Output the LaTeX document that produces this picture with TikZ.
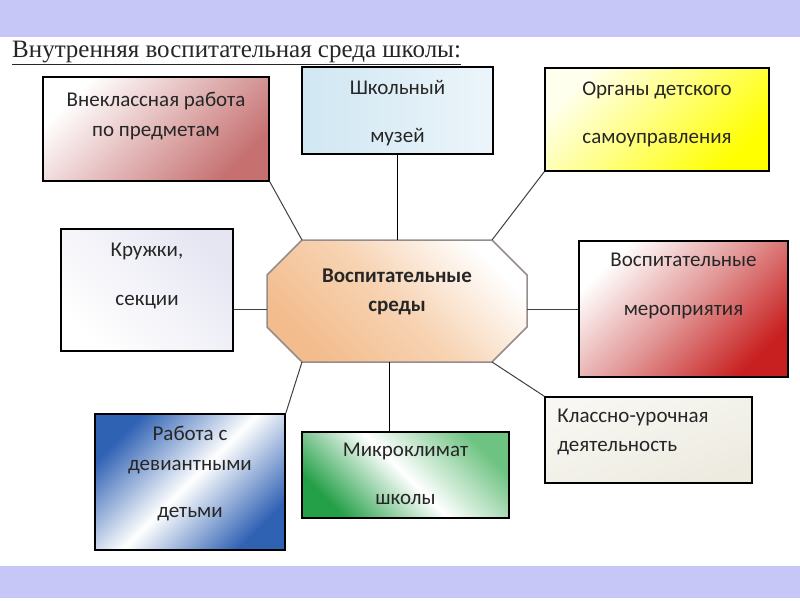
\documentclass[tikz,border=0pt]{standalone}
\usepackage{fontspec}
\setmainfont{Carlito}
\newfontfamily\titlefont{Liberation Serif}
\usepackage{tikz}

\definecolor{bandblue}{RGB}{199,199,247}
\definecolor{pinkred}{RGB}{198,112,112}
\definecolor{museumblue}{RGB}{208,231,242}
\definecolor{museumlight}{RGB}{236,245,250}
\definecolor{brightyellow}{RGB}{255,255,0}
\definecolor{paleyellow}{RGB}{255,255,238}
\definecolor{lilac}{RGB}{230,230,243}
\definecolor{peach}{RGB}{243,188,140}
\definecolor{peachlight}{RGB}{247,212,180}
\definecolor{octborder}{RGB}{150,140,140}
\definecolor{deepred}{RGB}{200,32,32}
\definecolor{midred}{RGB}{226,150,150}
\definecolor{beige}{RGB}{237,235,224}
\definecolor{leafgreen}{RGB}{36,160,72}
\definecolor{lightgreen}{RGB}{110,195,130}
\definecolor{steelblue}{RGB}{48,98,180}

\begin{document}
\begin{tikzpicture}
    [
    x=1pt,y=-1pt,
    block/.style={draw=black,line width=1.6pt,rectangle,inner sep=0pt},
    btext/.style={align=center,anchor=north,inner sep=0pt,text=black!85,
        font=\fontsize{21}{30}\selectfont},
    link/.style={black!75,line width=1pt},
    stem/.style={black,line width=1.8pt},
    ]
    \useasboundingbox (0,0) rectangle (800,600);

    % Bands
    \fill[bandblue] (0,0) rectangle (800,37);
    \fill[bandblue] (0,566) rectangle (800,598);

    % Title
    \node[anchor=base west,inner sep=0pt,text=black!85,
        font=\titlefont\fontsize{25}{28}\selectfont] (title) at (12,57)
        {\underline{Внутренняя воспитательная среда школы:}};

    % Boxes
    \node[block,minimum width=226pt,minimum height=104pt,
        top color=white,bottom color=pinkred,shading angle=45] (vneklass) at (156,129) {};
    \node[block,minimum width=191pt,minimum height=87pt,
        left color=museumblue,right color=museumlight] (muzej) at (397.5,110.5) {};
    \node[block,minimum width=224pt,minimum height=103pt,
        top color=paleyellow,bottom color=brightyellow,shading angle=45] (organy) at (657,119.5) {};
    \node[block,minimum width=172pt,minimum height=122pt,
        top color=lilac,bottom color=white,shading angle=-45] (kruzhki) at (147,290) {};
    \node[block,minimum width=209pt,minimum height=136pt,
        top color=white,bottom color=deepred,middle color=midred,shading angle=45] (meropr) at (683.5,309) {};
    \node[block,minimum width=207pt,minimum height=86pt,
        top color=beige!40,bottom color=beige,shading angle=20] (klassno) at (648.5,440) {};
    \node[block,minimum width=207pt,minimum height=86pt,
        top color=lightgreen,bottom color=leafgreen,middle color=white,shading angle=-45] (mikro) at (405.5,475) {};
    \node[block,minimum width=190pt,minimum height=136pt,
        top color=steelblue,bottom color=steelblue,middle color=white,shading angle=45] (rabota) at (190,482) {};

    % Centre
    \coordinate (oct-nw) at (302,240);
    \coordinate (oct-ne) at (492,240);
    \coordinate (oct-en) at (527,275);
    \coordinate (oct-es) at (527,327);
    \coordinate (oct-se) at (492,362);
    \coordinate (oct-sw) at (302,362);
    \coordinate (oct-ws) at (267,327);
    \coordinate (oct-wn) at (267,275);
    \shade[draw=octborder,line width=1.5pt,top color=white,bottom color=peach,
        middle color=peachlight,shading angle=-45]
        (oct-nw) -- (oct-ne) -- (oct-en) -- (oct-es) -- (oct-se) -- (oct-sw)
        -- (oct-ws) -- (oct-wn) -- cycle;
    \node[btext,font=\bfseries\fontsize{21}{29}\selectfont] (mid) at (397,269)
        {Воспитательные\\среды};

    % Texts
    \node[btext] (vneklass-t) at ([yshift=-16pt]vneklass.north) {Внеклассная работа\\по предметам};
    \node[btext] (muzej-t) at ([yshift=-14pt]muzej.north) {Школьный\\[18pt]музей};
    \node[btext] (organy-t) at ([yshift=-14pt]organy.north) {Органы детского\\[18pt]самоуправления};
    \node[btext] (kruzhki-t) at ([yshift=-15pt]kruzhki.north) {Кружки,\\[19pt]секции};
    \node[btext] (meropr-t) at ([yshift=-13pt]meropr.north) {Воспитательные\\[19pt]мероприятия};
    \node[btext,align=left,anchor=north west] (klassno-t) at ([xshift=13pt,yshift=-13pt]klassno.north west)
        {Классно-урочная\\[-1pt]деятельность};
    \node[btext] (mikro-t) at ([yshift=-12pt]mikro.north) {Микроклимат\\[18pt]школы};
    \node[btext] (rabota-t) at ([yshift=-13pt]rabota.north) {Работа с\\девиантными\\[17pt]детьми};

    % Connectors
    \coordinate (mikro-top) at ([xshift=-16pt]mikro.north);
    \draw[link] (vneklass.south east) -- (oct-nw);
    \draw[stem] (muzej.south) -- (muzej.south |- oct-nw);
    \draw[link] (organy.south west) -- (oct-ne);
    \draw[link] (kruzhki.east |- meropr.west) -- (oct-ws |- meropr.west);
    \draw[link] (oct-en |- meropr.west) -- (meropr.west);
    \draw[link] (oct-se) -- (klassno.north west);
    \draw[stem] (mikro-top) -- (mikro-top |- oct-sw);
    \draw[link] (oct-sw) -- (rabota.north east);

\end{tikzpicture}
\end{document}
